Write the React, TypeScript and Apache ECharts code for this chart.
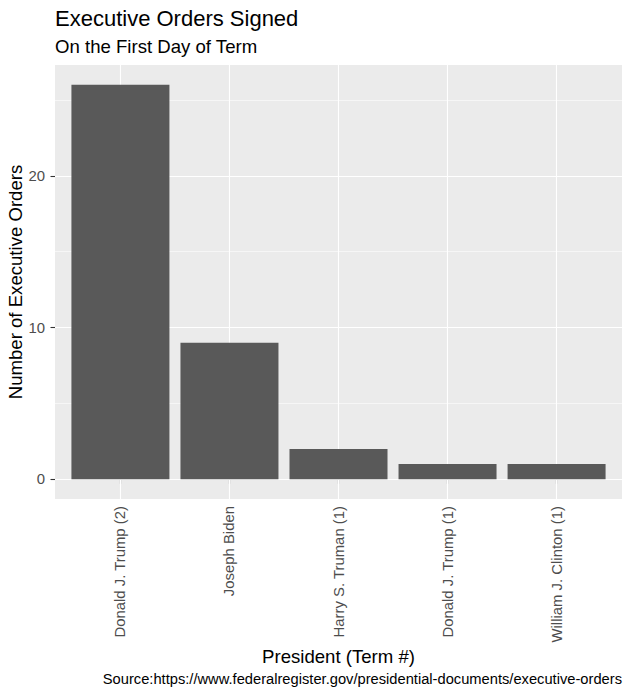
import React, { useEffect, useRef } from "react";
import * as echarts from "echarts";

const presidents = [
  "Donald J. Trump (2)",
  "Joseph Biden",
  "Harry S. Truman (1)",
  "Donald J. Trump (1)",
  "William J. Clinton (1)",
];
const orders = [26, 9, 2, 1, 1];
const yTicks = [0, 10, 20];
const yMinor = [5, 15, 25];

const FONT = "'Liberation Sans', Arial, Helvetica, sans-serif";

export default function App() {
  const ref = useRef<HTMLDivElement>(null);
  useEffect(() => {
    document.body.style.margin = "0";
    if (!ref.current) return;
    const chart = echarts.init(ref.current, undefined, { renderer: "svg" });
    const positions = presidents.map((_, i) => i + 1);
    const gridLines: any[] = [
      ...yTicks.map((v) => ({ yAxis: v, lineStyle: { width: 1.1 } })),
      ...yMinor.map((v) => ({ yAxis: v, lineStyle: { width: 0.55 } })),
      ...positions.map((p) => ({ xAxis: p, lineStyle: { width: 1.1 } })),
    ];
    chart.setOption({
      animation: false,
      backgroundColor: "#FFFFFF",
      textStyle: { fontFamily: FONT },
      grid: {
        left: 55,
        right: 10,
        top: 65,
        bottom: 197,
        show: true,
        backgroundColor: "#EBEBEB",
        borderWidth: 0,
        containLabel: false,
        outerBoundsMode: "none",
      },
      graphic: [
        {
          type: "text",
          x: 55,
          y: 18,
          style: {
            text: "Executive Orders Signed",
            font: `22px ${FONT}`,
            fill: "#000000",
            verticalAlign: "middle",
            align: "left",
          },
        },
        {
          type: "text",
          x: 55,
          y: 46,
          style: {
            text: "On the First Day of Term",
            font: `18.6px ${FONT}`,
            fill: "#000000",
            verticalAlign: "middle",
            align: "left",
          },
        },
        {
          type: "text",
          x: 622,
          y: 679,
          style: {
            text: "Source:https://www.federalregister.gov/presidential-documents/executive-orders",
            font: `14.7px ${FONT}`,
            fill: "#000000",
            verticalAlign: "middle",
            align: "right",
          },
        },
      ],
      xAxis: {
        type: "value",
        min: 0.4,
        max: 5.6,
        name: "President (Term #)",
        nameLocation: "middle",
        nameGap: 148,
        nameMoveOverlap: false,
        nameTextStyle: { fontSize: 18.6, color: "#000000", fontFamily: FONT },
        axisLine: { show: false },
        splitLine: { show: false },
        axisTick: {
          show: true,
          customValues: positions,
          length: 4.5,
          lineStyle: { color: "#333333", width: 1.1 },
        },
        axisLabel: {
          customValues: positions,
          rotate: 90,
          margin: 7,
          fontSize: 14.9,
          color: "#4D4D4D",
          fontFamily: FONT,
          formatter: (v: number) => presidents[Math.round(v) - 1] ?? "",
        },
      },
      yAxis: {
        type: "value",
        min: -1.3,
        max: 27.3,
        name: "Number of Executive Orders",
        nameLocation: "middle",
        nameGap: 30,
        nameMoveOverlap: false,
        nameRotate: 90,
        nameTextStyle: { fontSize: 18.6, color: "#000000", fontFamily: FONT },
        axisLine: { show: false },
        splitLine: { show: false },
        axisTick: {
          show: true,
          customValues: yTicks,
          length: 4.5,
          lineStyle: { color: "#333333", width: 1.1 },
        },
        axisLabel: {
          customValues: yTicks,
          margin: 10,
          fontSize: 14.9,
          color: "#4D4D4D",
          fontFamily: FONT,
        },
      },
      series: [
        {
          type: "bar",
          z: 3,
          barWidth: 98,
          itemStyle: { color: "#595959" },
          data: orders.map((v, i) => [positions[i], v]),
          markLine: {
            z: 1,
            silent: true,
            symbol: "none",
            label: { show: false },
            lineStyle: { color: "#FFFFFF", type: "solid" },
            emphasis: { disabled: true },
            data: gridLines,
          },
        },
      ],
    });
    return () => chart.dispose();
  }, []);
  return <div ref={ref} style={{ width: 632, height: 696 }} />;
}
